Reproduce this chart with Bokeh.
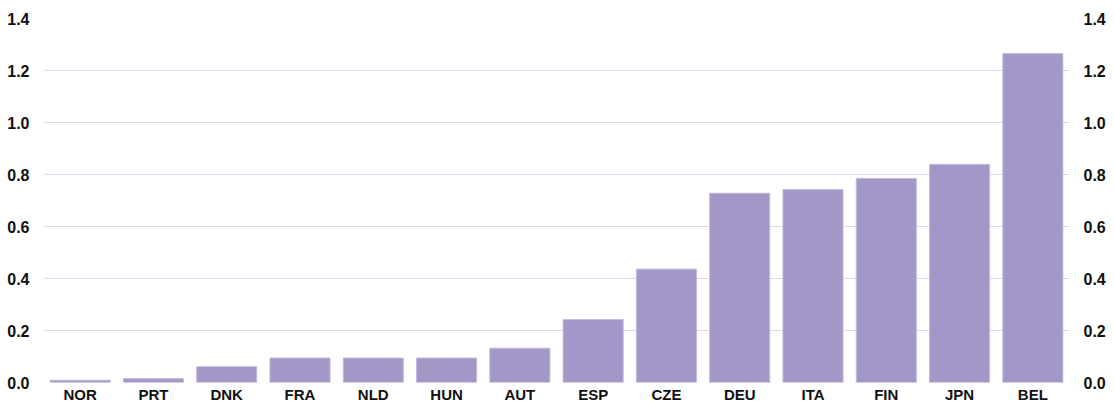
from bokeh.plotting import figure
from bokeh.models import ColumnDataSource, FactorRange, Range1d, LinearAxis, FixedTicker, CustomJSTickFormatter
from bokeh.embed import file_html
from bokeh.resources import INLINE

countries = ["NOR", "PRT", "DNK", "FRA", "NLD", "HUN", "AUT", "ESP", "CZE", "DEU", "ITA", "FIN", "JPN", "BEL"]
values = [0.009, 0.015, 0.061, 0.094, 0.094, 0.094, 0.132, 0.242, 0.436, 0.728, 0.742, 0.785, 0.839, 1.265]
y_ticks = [0.0, 0.2, 0.4, 0.6, 0.8, 1.0, 1.2, 1.4]

src = ColumnDataSource(dict(country=countries, value=values))

p = figure(
    width=1114, height=405,
    x_range=FactorRange(factors=countries, range_padding=0),
    y_range=Range1d(0, 1.4),
    output_backend="svg", toolbar_location=None,
    min_border_left=43, min_border_right=45, min_border_top=18, min_border_bottom=20,
)
p.vbar(x="country", top="value", width=0.82, source=src,
       fill_color="#a397c8", line_color="#c4bbde", line_width=1)

p.outline_line_color = None
p.xgrid.grid_line_color = None
p.ygrid.grid_line_color = "#dcd8ee"
p.ygrid.grid_line_width = 1
p.yaxis.ticker = FixedTicker(ticks=y_ticks)

right = LinearAxis(ticker=FixedTicker(ticks=y_ticks))
p.add_layout(right, "right")

fmt = CustomJSTickFormatter(code="return tick.toFixed(1);")
for ax in [p.yaxis[0], right]:
    ax.axis_line_color = None
    ax.major_tick_line_color = None
    ax.minor_tick_line_color = None
    ax.major_label_standoff = 8
    ax.major_label_text_font = "Liberation Sans"
    ax.major_label_text_font_style = "bold"
    ax.major_label_text_font_size = "16px"
    ax.major_label_text_color = "#111111"
    ax.formatter = fmt

xa = p.xaxis[0]
xa.axis_line_color = None
xa.major_tick_line_color = None
xa.minor_tick_line_color = None
xa.major_tick_out = 0
xa.major_tick_in = 0
xa.minor_tick_out = 0
xa.major_label_standoff = 3
xa.major_label_text_line_height = 0.85
xa.major_label_text_font = "Liberation Sans"
xa.major_label_text_font_style = "bold"
xa.major_label_text_font_size = "15px"
xa.major_label_text_color = "#111111"

open("out.html", "w").write(file_html(p, INLINE))
